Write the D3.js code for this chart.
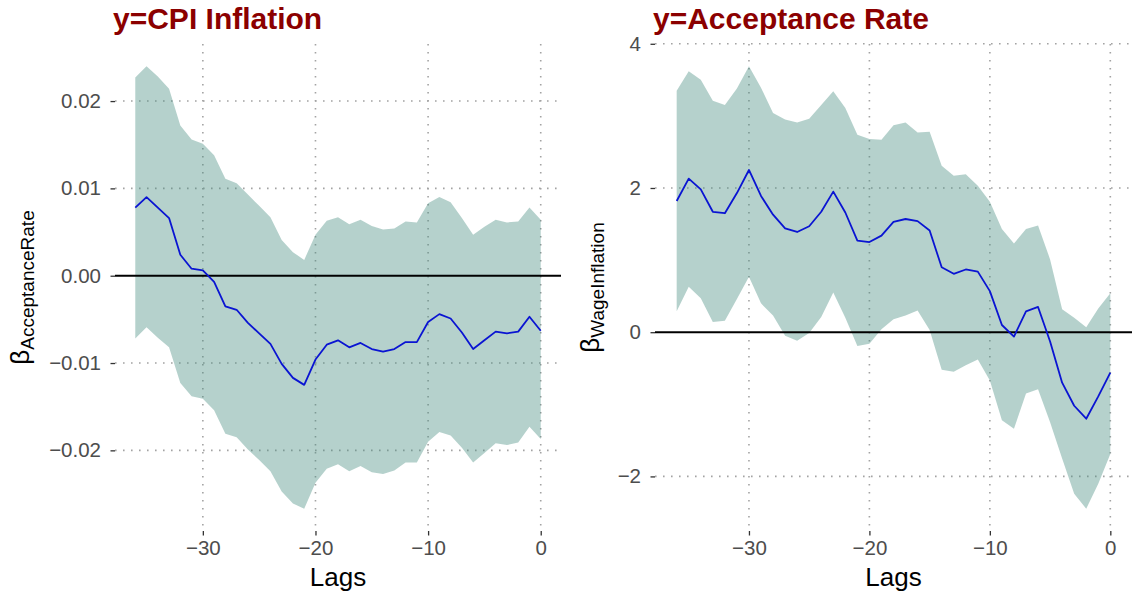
<!DOCTYPE html>
<html>
<head>
<meta charset="utf-8">
<script src="https://cdn.jsdelivr.net/npm/d3@7"></script>
<style>
  html, body { margin: 0; padding: 0; background: #ffffff; }
  svg { display: block; font-family: "Liberation Sans", Arial, Helvetica, sans-serif; }
</style>
</head>
<body>
<svg id="chart" width="1136" height="594"></svg>
<script>
// Lags of the regressor (x axis of both panels)
const lags = [-36, -35, -34, -33, -32, -31, -30, -29, -28, -27, -26, -25, -24, -23, -22, -21, -20, -19,
              -18, -17, -16, -15, -14, -13, -12, -11, -10, -9, -8, -7, -6, -5, -4, -3, -2, -1, 0];

// Panel 1: y = CPI inflation, coefficient on the acceptance rate
const cpiUpper = [0.0227, 0.0240, 0.0228, 0.0214, 0.0172, 0.0156, 0.0151, 0.0138, 0.0111, 0.0106,
                  0.0093, 0.0080, 0.0067, 0.0041, 0.0027, 0.0018, 0.0047, 0.0063, 0.0067, 0.0059,
                  0.0064, 0.0057, 0.0053, 0.0054, 0.0062, 0.0061, 0.0083, 0.0090, 0.0084, 0.0066,
                  0.0047, 0.0056, 0.0064, 0.0061, 0.0062, 0.0078, 0.0064];
const cpiMean  = [0.0078, 0.0090, 0.0078, 0.0066, 0.0024, 0.0008, 0.0006, -0.0007, -0.0035, -0.0039,
                  -0.0054, -0.0066, -0.0078, -0.0101, -0.0117, -0.0125, -0.0096, -0.0079, -0.0074, -0.0082,
                  -0.0077, -0.0084, -0.0087, -0.0084, -0.0076, -0.0076, -0.0053, -0.0044, -0.0049, -0.0065,
                  -0.0084, -0.0074, -0.0064, -0.0066, -0.0064, -0.0047, -0.0063];
const cpiLower = [-0.0072, -0.0059, -0.0071, -0.0082, -0.0123, -0.0138, -0.0141, -0.0154, -0.0181, -0.0185,
                  -0.0199, -0.0211, -0.0224, -0.0247, -0.0261, -0.0267, -0.0237, -0.0221, -0.0216, -0.0224,
                  -0.0218, -0.0225, -0.0227, -0.0223, -0.0214, -0.0214, -0.0190, -0.0179, -0.0183, -0.0197,
                  -0.0214, -0.0203, -0.0192, -0.0194, -0.0191, -0.0173, -0.0187];

// Panel 2: y = acceptance rate, coefficient on wage inflation
const wageUpper = [3.35, 3.62, 3.50, 3.21, 3.15, 3.38, 3.69, 3.39, 3.04, 2.95,
                   2.91, 2.96, 3.15, 3.34, 3.11, 2.74, 2.68, 2.67, 2.87, 2.91,
                   2.77, 2.78, 2.31, 2.17, 2.19, 2.03, 1.81, 1.43, 1.23, 1.43,
                   1.48, 1.01, 0.32, 0.20, 0.07, 0.33, 0.54];
const wageMean  = [1.82, 2.13, 1.98, 1.67, 1.65, 1.93, 2.25, 1.89, 1.63, 1.44,
                   1.39, 1.47, 1.67, 1.95, 1.66, 1.27, 1.25, 1.34, 1.53, 1.57,
                   1.54, 1.41, 0.90, 0.81, 0.87, 0.84, 0.57, 0.10, -0.06, 0.29,
                   0.35, -0.13, -0.70, -1.02, -1.20, -0.89, -0.56];
const wageLower = [0.29, 0.63, 0.47, 0.14, 0.16, 0.46, 0.77, 0.40, 0.23, -0.05,
                   -0.12, -0.01, 0.21, 0.55, 0.20, -0.19, -0.16, 0.04, 0.18, 0.23,
                   0.30, 0.03, -0.52, -0.55, -0.46, -0.38, -0.67, -1.22, -1.34, -0.85,
                   -0.79, -1.25, -1.75, -2.24, -2.45, -2.10, -1.69];

// Tick values
const xTicks = [-30, -20, -10, 0];
const cpiTicks = [-0.02, -0.01, 0.00, 0.01, 0.02];
const wageTicks = [-2, 0, 2, 4];

const panels = [
  { title: "y=CPI Inflation", sub: "AcceptanceRate", upper: cpiUpper, mean: cpiMean, lower: cpiLower,
    yTicks: cpiTicks, fmt: d3.format(".2f"), left: 115, right: 561, labelX: 29 },
  { title: "y=Acceptance Rate", sub: "WageInflation", upper: wageUpper, mean: wageMean, lower: wageLower,
    yTicks: wageTicks, fmt: d3.format("d"), left: 655, right: 1132, labelX: 599 }
];

const panelTop = 44, panelBottom = 531;
const svg = d3.select("#chart");

// ggplot-style 5% expansion of a continuous range
function expand(ext) {
  const pad = (ext[1] - ext[0]) * 0.05;
  return [ext[0] - pad, ext[1] + pad];
}

panels.forEach(p => {
  const rows = lags.map((lag, i) => ({ lag, lo: p.lower[i], mid: p.mean[i], hi: p.upper[i] }));

  const x = d3.scaleLinear().domain(expand(d3.extent(lags))).range([p.left, p.right]);
  const y = d3.scaleLinear()
    .domain(expand([d3.min(p.lower), d3.max(p.upper)]))
    .range([panelBottom, panelTop]);

  const g = svg.append("g");

  // dotted major grid
  const grid = g.append("g")
    .attr("stroke", "#a3a3a3")
    .attr("stroke-width", 1.6)
    .attr("stroke-dasharray", "1.6 6.4");
  grid.selectAll("line.v").data(xTicks).join("line")
    .attr("class", "v")
    .attr("x1", d => x(d)).attr("x2", d => x(d))
    .attr("y1", panelTop).attr("y2", panelBottom);
  grid.selectAll("line.h").data(p.yTicks.filter(t => t !== 0)).join("line")
    .attr("class", "h")
    .attr("x1", p.left).attr("x2", p.right)
    .attr("y1", d => y(d)).attr("y2", d => y(d));

  // confidence band
  g.append("path")
    .datum(rows)
    .attr("fill", "#468c80")
    .attr("fill-opacity", 0.4)
    .attr("d", d3.area().x(d => x(d.lag)).y0(d => y(d.lo)).y1(d => y(d.hi)));

  // zero reference
  g.append("line")
    .attr("x1", p.left).attr("x2", p.right)
    .attr("y1", y(0)).attr("y2", y(0))
    .attr("stroke", "#000").attr("stroke-width", 1.9);

  // point estimate
  g.append("path")
    .datum(rows)
    .attr("fill", "none")
    .attr("stroke", "#0a14d2")
    .attr("stroke-width", 1.8)
    .attr("stroke-linejoin", "round")
    .attr("d", d3.line().x(d => x(d.lag)).y(d => y(d.mid)));

  // axes
  const yAxis = g.append("g")
    .attr("transform", `translate(${p.left},0)`)
    .call(d3.axisLeft(y).tickValues(p.yTicks).tickFormat(p.fmt).tickSize(4.5).tickPadding(9.5));
  const xAxis = g.append("g")
    .attr("transform", `translate(0,${panelBottom})`)
    .call(d3.axisBottom(x).tickValues(xTicks).tickSize(4.5).tickPadding(5));
  [yAxis, xAxis].forEach(ax => {
    ax.select(".domain").remove();
    ax.selectAll(".tick line").attr("stroke", "#333333").attr("stroke-width", 1.3);
    ax.selectAll(".tick text")
      .attr("fill", "#4d4d4d")
      .style("font-size", "20.5px")
      .style("font-family", "'Liberation Sans', Arial, sans-serif");
  });

  // title
  g.append("text")
    .attr("x", p.left - 2).attr("y", 28.5)
    .attr("fill", "#8b0000")
    .style("font-size", "30px")
    .style("font-weight", "bold")
    .text(p.title);

  // x axis title
  g.append("text")
    .attr("x", (p.left + p.right) / 2).attr("y", 586)
    .attr("text-anchor", "middle")
    .attr("fill", "#000")
    .style("font-size", "26px")
    .text("Lags");

  // y axis title: beta with subscript
  const yt = g.append("text")
    .attr("transform", `translate(${p.labelX},${(panelTop + panelBottom) / 2}) rotate(-90)`)
    .attr("text-anchor", "middle")
    .attr("fill", "#000");
  yt.append("tspan").style("font-size", "26px").text("β");
  yt.append("tspan").attr("dy", 5).style("font-size", "19px").text(p.sub);
});
</script>
</body>
</html>
